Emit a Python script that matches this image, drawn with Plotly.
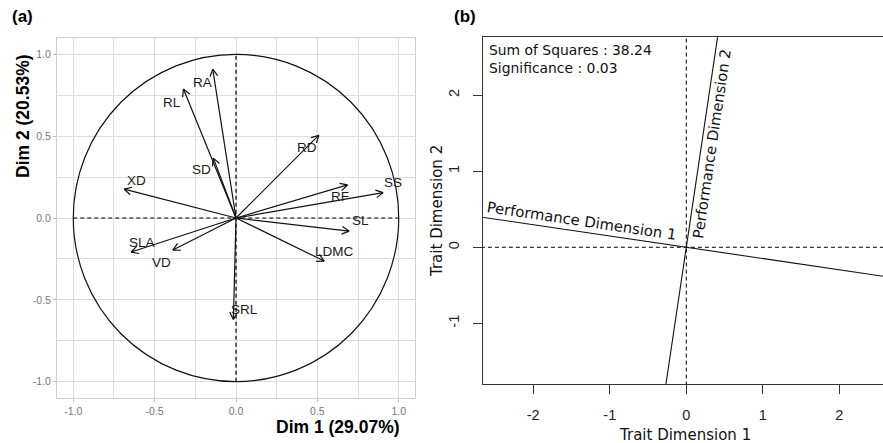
import numpy as np
import plotly.graph_objects as go

# ---------------- data ----------------
# (a) PCA variable loadings
traits = ["RA", "RL", "RD", "SD", "XD", "RF", "SS", "SL", "LDMC", "SLA", "VD", "SRL"]
dim1 = [-0.143, -0.323, 0.509, -0.139, -0.687, 0.685, 0.904, 0.695, 0.542, -0.644, -0.388, -0.016]
dim2 = [0.910, 0.788, 0.506, 0.366, 0.176, 0.202, 0.155, -0.080, -0.263, -0.208, -0.196, -0.620]
# label offsets from arrow tips (data units)
lab_dx = [-0.065, -0.068, -0.075, -0.070, 0.075, -0.045, 0.060, 0.072, 0.062, 0.067, -0.068, 0.067]
lab_dy = [-0.080, -0.080, -0.075, -0.072, 0.055, -0.073, 0.062, 0.062, 0.061, 0.061, -0.074, 0.061]
a_ticks = [-1.0, -0.5, 0.0, 0.5, 1.0]
a_ticktext = ["-1.0", "-0.5", "0.0", "0.5", "1.0"]
dim1_title = "Dim 1 (29.07%)"
dim2_title = "Dim 2 (20.53%)"

# (b) Performance dimensions in trait space
perf_axis1 = [1.0, -0.148]
perf_axis2 = [0.148, 1.0]
b_xticks = [-2, -1, 0, 1, 2]
b_xticktext = ["-2", "-1", "0", "1", "2"]
b_yticks = [-1, 0, 1, 2]
b_yticktext = ["-1", "0", "1", "2"]
sum_sq = 38.24
signif = 0.03

W, H = 883, 443
fig = go.Figure()

# ---------------- panel (a) ----------------
fig.add_trace(go.Scatter(x=[-1, 1], y=[0, 0], mode="lines", xaxis="x", yaxis="y",
                         line=dict(color="black", width=1.2, dash="4px,3px"), hoverinfo="skip"))
fig.add_trace(go.Scatter(x=[0, 0], y=[-1, 1], mode="lines", xaxis="x", yaxis="y",
                         line=dict(color="black", width=1.2, dash="4px,3px"), hoverinfo="skip"))

ax, ay = [], []
head_len, head_ang = 0.05, np.radians(28)
for x, y in zip(dim1, dim2):
    ax += [0, x, None]
    ay += [0, y, None]
    ang = np.arctan2(y, x)
    for s in (1, -1):
        a2 = ang + np.pi + s * head_ang
        ax += [x + head_len * np.cos(a2), x, None]
        ay += [y + head_len * np.sin(a2), y, None]
fig.add_trace(go.Scatter(x=ax, y=ay, mode="lines", xaxis="x", yaxis="y",
                         line=dict(color="#111", width=1.2), hoverinfo="skip"))

fig.add_shape(type="circle", xref="x", yref="y", x0=-1, y0=-1, x1=1, y1=1,
              line=dict(color="#111", width=1.2), layer="above")

annotations = []
for t, x, y, dx, dy in zip(traits, dim1, dim2, lab_dx, lab_dy):
    annotations.append(dict(x=x + dx, y=y + dy, xref="x", yref="y", text=t, showarrow=False,
                            font=dict(family="Liberation Sans, Arial", size=13.5, color="#1a1a1a")))

annotations += [
    dict(x=22 / W, y=1 - 17 / H, xref="paper", yref="paper", text="<b>(a)</b>", showarrow=False,
         font=dict(family="Liberation Sans, Arial", size=17, color="black"), xanchor="center", yanchor="middle"),
    dict(x=338 / W, y=1 - 427 / H, xref="paper", yref="paper", text="<b>" + dim1_title + "</b>", showarrow=False,
         font=dict(family="Liberation Sans, Arial", size=17.5, color="black"), xanchor="center", yanchor="middle"),
    dict(x=23 / W, y=1 - 116 / H, xref="paper", yref="paper", text="<b>" + dim2_title + "</b>", showarrow=False,
         textangle=-90, font=dict(family="Liberation Sans, Arial", size=17.5, color="black"),
         xanchor="center", yanchor="middle"),
]

# ---------------- panel (b) ----------------
L = 10
fig.add_trace(go.Scatter(x=[-L, L], y=[0, 0], mode="lines", xaxis="x2", yaxis="y2",
                         line=dict(color="black", width=1, dash="4px,3px"), hoverinfo="skip"))
fig.add_trace(go.Scatter(x=[0, 0], y=[-L, L], mode="lines", xaxis="x2", yaxis="y2",
                         line=dict(color="black", width=1, dash="4px,3px"), hoverinfo="skip"))
for d in (perf_axis1, perf_axis2):
    fig.add_trace(go.Scatter(x=[-L * d[0], L * d[0]], y=[-L * d[1], L * d[1]], mode="lines",
                             xaxis="x2", yaxis="y2", line=dict(color="#111", width=1.1), hoverinfo="skip"))

ang1 = np.degrees(np.arctan2(perf_axis1[1], perf_axis1[0]))
t1 = -1.37
annotations.append(dict(x=t1 * perf_axis1[0], y=t1 * perf_axis1[1], xref="x2", yref="y2",
                        text="Performance Dimension 1", showarrow=False, textangle=-ang1, yshift=11,
                        font=dict(family="DejaVu Sans", size=14.8, color="#111")))
t2 = 1.36
ang2 = np.degrees(np.arctan2(perf_axis2[1], perf_axis2[0]))
annotations.append(dict(x=t2 * perf_axis2[0], y=t2 * perf_axis2[1], xref="x2", yref="y2",
                        text="Performance Dimension 2", showarrow=False, textangle=-ang2, xshift=10,
                        font=dict(family="DejaVu Sans", size=14.8, color="#111")))

annotations += [
    dict(x=487 / W, y=1 - 50 / H, xref="paper", yref="paper",
         text="Sum of Squares : %.2f" % sum_sq, showarrow=False, xanchor="left", yanchor="middle",
         font=dict(family="DejaVu Sans", size=13.9, color="#111")),
    dict(x=487 / W, y=1 - 68 / H, xref="paper", yref="paper",
         text="Significance : %.2f" % signif, showarrow=False, xanchor="left", yanchor="middle",
         font=dict(family="DejaVu Sans", size=13.9, color="#111")),
    dict(x=465 / W, y=1 - 17 / H, xref="paper", yref="paper", text="<b>(b)</b>", showarrow=False,
         font=dict(family="Liberation Sans, Arial", size=17, color="black"), xanchor="center", yanchor="middle"),
    dict(x=685 / W, y=1 - 435 / H, xref="paper", yref="paper", text="Trait Dimension 1", showarrow=False,
         font=dict(family="DejaVu Sans", size=15, color="#111"), xanchor="center", yanchor="middle"),
    dict(x=437 / W, y=1 - 211 / H, xref="paper", yref="paper", text="Trait Dimension 2", showarrow=False,
         textangle=-90, font=dict(family="DejaVu Sans", size=15, color="#111"),
         xanchor="center", yanchor="middle"),
]

grid_c = "#dcdcdc"
fig.update_layout(
    width=W, height=H, margin=dict(l=0, r=0, t=0, b=0),
    paper_bgcolor="white", plot_bgcolor="white", showlegend=False,
    annotations=annotations,
    xaxis=dict(domain=[57 / W, 415 / W], range=[-1.1, 1.1], tickvals=a_ticks, ticktext=a_ticktext,
               showgrid=True, gridcolor=grid_c, gridwidth=1, zeroline=False,
               minor=dict(dtick=0.25, tick0=0, showgrid=True, gridcolor=grid_c, gridwidth=1),
               showline=True, linecolor="#cfcfcf", mirror=True,
               ticks="outside", ticklen=3, tickcolor="#bbbbbb",
               tickfont=dict(family="Liberation Sans, Arial", size=10.5, color="#777")),
    yaxis=dict(domain=[1 - 398 / H, 1 - 38 / H], range=[-1.1, 1.1], tickvals=a_ticks, ticktext=a_ticktext,
               showgrid=True, gridcolor=grid_c, gridwidth=1, zeroline=False,
               minor=dict(dtick=0.25, tick0=0, showgrid=True, gridcolor=grid_c, gridwidth=1),
               showline=True, linecolor="#cfcfcf", mirror=True,
               ticks="outside", ticklen=3, tickcolor="#bbbbbb",
               tickfont=dict(family="Liberation Sans, Arial", size=10.5, color="#777")),
    xaxis2=dict(domain=[482.7 / W, 1.0], range=[-2.66, 2.57], anchor="y2",
                tickvals=b_xticks, ticktext=b_xticktext, ticklabelstandoff=8,
                showgrid=False, zeroline=False, showline=True, linecolor="#333", linewidth=1.2,
                mirror=True, ticks="outside", ticklen=9, tickcolor="#333", tickwidth=1.2,
                tickfont=dict(family="Liberation Sans, Arial", size=14.5, color="#222")),
    yaxis2=dict(domain=[1 - 384.3 / H, 1 - 37.3 / H], range=[-1.80, 2.758], anchor="x2",
                tickvals=b_yticks, ticktext=b_yticktext, ticklabelstandoff=8,
                showgrid=False, zeroline=False, showline=True, linecolor="#333", linewidth=1.2,
                ticks="outside", ticklen=9, tickcolor="#333", tickwidth=1.2, tickangle=-90,
                tickfont=dict(family="Liberation Sans, Arial", size=14.5, color="#222")),
)

fig.write_html("out.html", config={"displayModeBar": False},
               post_script="document.body.style.margin='0';document.body.style.overflow='hidden';")
